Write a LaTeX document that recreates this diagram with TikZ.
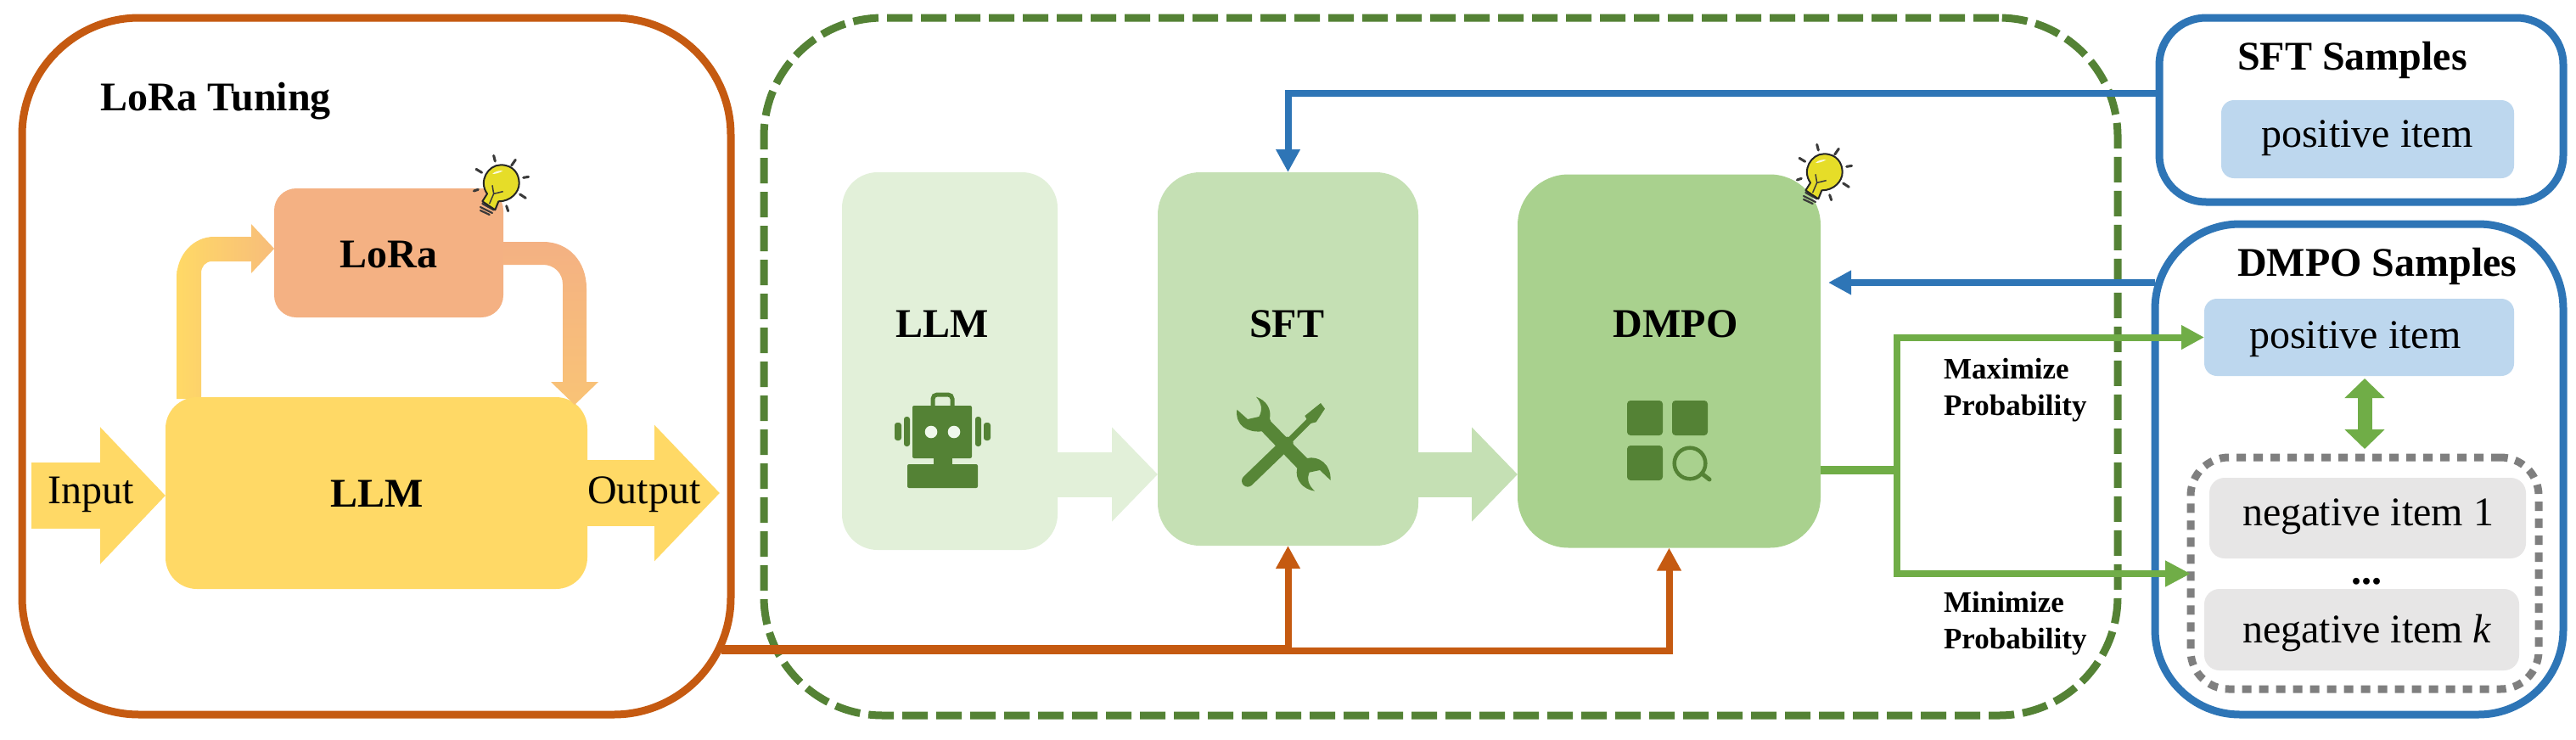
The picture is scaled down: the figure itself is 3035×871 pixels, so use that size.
\documentclass[tikz,border=0pt]{standalone}
\usepackage{fontspec}
\setmainfont{Liberation Serif}
\usetikzlibrary{arrows.meta,calc}
\definecolor{cOrange}{HTML}{C55A11}
\definecolor{cGreenD}{HTML}{548235}
\definecolor{cGreenM}{HTML}{70AD47}
\definecolor{cBlue}{HTML}{2E75B6}
\definecolor{cGrey}{HTML}{7F7F7F}
\definecolor{cYellow}{HTML}{FFD966}
\definecolor{cPeach}{HTML}{F4B183}
\definecolor{cG1}{HTML}{E2F0D9}
\definecolor{cG2}{HTML}{C5E0B4}
\definecolor{cG3}{HTML}{A9D18E}
\definecolor{cSky}{HTML}{BDD7EE}
\definecolor{cPale}{HTML}{E7E6E6}
\definecolor{cBulb}{HTML}{E6DD28}
\definecolor{cInk}{HTML}{3A3A3A}
\tikzset{
  boxbase/.style={rectangle,inner sep=0pt,outer sep=0pt,anchor=north west},
  frame/.style={boxbase,line width=9pt},
  solidbox/.style={boxbase,draw=none},
  txt/.style={inner sep=0pt,outer sep=0pt,anchor=base,font=\fontsize{48}{52}\selectfont},
  txtb/.style={txt,font=\fontsize{48}{52}\selectfont\bfseries},
  txts/.style={inner sep=0pt,outer sep=0pt,anchor=west,align=left,font=\fontsize{35}{43}\selectfont\bfseries},
  blockarrow/.style n args={4}{line width=#2,draw=#1,-{Triangle[length=#4,width=#3]}},
  thin arrow/.style={line width=8pt,-{Triangle[length=27pt,width=27pt]}},
  icon/.style={fill=cGreenD,draw=none},
  bulb/.pic={
    \begin{scope}[scale=0.3333,shift={(-270,-168)}]
      \draw[cInk,line width=3pt,line cap=round]
        (245,70)--(250,90) (322,85)--(308,105) (350,148)--(368,145)
        (338,207)--(358,220) (290,248)--(296,266) (175,195)--(190,190)
        (183,118)--(203,130);
      \draw[cInk,line width=2.2pt,line cap=round]
        (205,240)--(245,262) (198,252)--(240,273) (198,264)--(230,279);
      \draw[fill=cBulb,draw=black!85,line width=2pt,line join=round]
        (222,205) .. controls (190,160) and (225,103) .. (270,103)
        .. controls (315,103) and (335,135) .. (335,168)
        .. controls (335,200) and (305,232) .. (262,232)
        -- (250,262) -- (205,232) -- cycle;
      \draw[cInk,line width=1.5pt] (240,175)--(245,205)--(278,197) (245,205)--(230,240);
      \fill[white!85!cBulb] (240,135) .. controls (250,125) and (265,122) .. (278,124)
        .. controls (265,130) and (255,135) .. (240,135) -- cycle;
    \end{scope}
  }
}
\begin{document}
\begin{tikzpicture}[x=1pt,y=-1pt]
\useasboundingbox (0,0) rectangle (3035,871);
\fill[white] (0,0) rectangle (3035,871);

% frames
\node[frame,draw=cOrange,rounded corners=138pt,minimum width=835pt,minimum height=821pt] (tuning) at (26,21) {};
\node[frame,draw=cGreenD,dash pattern=on 30pt off 10pt,rounded corners=140pt,minimum width=1595pt,minimum height=822pt] (main) at (900,21) {};
\node[frame,draw=cBlue,rounded corners=55pt,minimum width=476pt,minimum height=217pt] (sftS) at (2544,21) {};
\node[frame,draw=cBlue,rounded corners=100pt,minimum width=481pt,minimum height=578pt] (dmpoS) at (2539,264) {};

% left panel
\node[txtb,anchor=base west] (tuningT) at (118,130) {LoRa Tuning};
\coordinate (inStart) at (37,584);
\coordinate (outEnd) at (848,581);
\node[solidbox,fill=cPeach,rounded corners=26pt,minimum width=270pt,minimum height=152pt] (lora) at (323,222) {};
\shade[left color=cYellow,right color=cPeach!70!cYellow]
  (lora.west) ++(0,-5) -- ++(-27,-29) -- ++(0,15) -- (252,279)
  .. controls (228,279) and (208,300) .. (208,328) -- (208,470) -- (237,470) -- (237,322)
  .. controls (237,314) and (242,308) .. (250,308) -- (296,308) -- (296,322) -- cycle;
\node[solidbox,fill=cYellow,rounded corners=37pt,minimum width=497pt,minimum height=226pt] (llmY) at (195,468) {};
\shade[top color=cPeach,bottom color=cPeach!55!cYellow]
  (lora.east) ++(0,-13) -- (640,285) .. controls (670,285) and (691,308) .. (691,340)
  -- (691,450) -- (705,450) -- (677,477) -- (649,450) -- (663,450) -- (663,335)
  .. controls (663,322) and (653,312) .. (640,312) -- (593,312) -- cycle;
\draw[blockarrow={cYellow}{78pt}{157pt}{77pt}] (inStart) -- (llmY.west |- inStart);
\draw[blockarrow={cYellow}{78pt}{156pt}{77pt}] (llmY.east |- outEnd) -- (outEnd);
\node[txt] (inputT) at (107,593) {Input};
\node[txt] (outputT) at (759,593) {Output};
\node[txtb] (llmYT) at (444,597) {LLM};
\node[txtb] (loraT) at (458,315) {LoRa};
\pic at (590,216) {bulb};

% middle boxes
\node[solidbox,fill=cG1,rounded corners=42pt,minimum width=254pt,minimum height=445pt] (llmG) at (992,203) {};
\node[solidbox,fill=cG2,rounded corners=50pt,minimum width=307pt,minimum height=440pt] (sft) at (1364,203) {};
\node[solidbox,fill=cG3,rounded corners=60pt,minimum width=357pt,minimum height=440pt] (dmpo) at (1788,205.5) {};
\coordinate (flowY) at (1300,559);
\draw[blockarrow={cG1}{53pt}{108pt}{54pt}] (llmG.east |- flowY) -- (sft.west |- flowY);
\draw[blockarrow={cG2}{53pt}{108pt}{54pt}] (sft.east |- flowY) -- (dmpo.west |- flowY);
\node[txtb] (llmGT) at (1110,397) {LLM};
\node[txtb] (sftT) at (1516,397) {SFT};
\node[txtb] (dmpoT) at (1974,397) {DMPO};
\pic at (2149,203) {bulb};

% robot icon
\draw[cGreenD,line width=5pt,rounded corners=5pt] (1099,480) -- (1099,465) -- (1122,465) -- (1122,480);
\fill[icon,rounded corners=2pt] (1075,478) rectangle (1145,540);
\fill[icon] (1100,538) rectangle (1122,549);
\fill[icon,rounded corners=2pt] (1069,547) rectangle (1152,575);
\fill[icon,rounded corners=3pt] (1065,491) rectangle (1072,526);
\fill[icon,rounded corners=3pt] (1054,498) rectangle (1062,519);
\fill[icon,rounded corners=3pt] (1149,491) rectangle (1156,526);
\fill[icon,rounded corners=3pt] (1159,498) rectangle (1167,519);
\fill[cG1!50!white] (1097,509) circle (7.3) (1124,509) circle (7.3);

% tools icon
\begin{scope}[shift={(1420,440)},scale=0.3333]
  \draw[cGreenD!90!cGreenM,line width=14pt,line cap=round] (150,380) -- (290,245);
  \draw[cGreenD!90!cGreenM,line width=7pt] (290,245) -- (370,165);
  \fill[cGreenD!90!cGreenM] (352,150) -- (408,105) -- (423,125) -- (392,172) -- (368,178) -- cycle;
  \fill[cGreenD!90!cGreenM] (180,83) .. controls (215,95) and (235,125) .. (228,160)
    -- (232,170) -- (360,300) .. controls (400,290) and (445,320) .. (443,378)
    -- (405,342) -- (368,350) .. controls (358,375) and (365,395) .. (387,416)
    .. controls (345,410) and (315,375) .. (325,335) -- (200,205)
    .. controls (150,210) and (105,185) .. (112,128) -- (150,162) -- (190,153)
    .. controls (203,130) and (200,105) .. (180,83) -- cycle;
\end{scope}

% search icon
\fill[icon,rounded corners=4pt] (1917,472) rectangle (1959,513);
\fill[icon,rounded corners=4pt] (1970,472) rectangle (2012,513);
\fill[icon,rounded corners=4pt] (1917,525) rectangle (1959,566);
\draw[cGreenD,line width=4.5pt] (1991,546) circle (18.3);
\draw[cGreenD,line width=5pt,line cap=round] (2005,558) -- (2014,565);

% right boxes
\node[solidbox,fill=cSky,rounded corners=15pt,minimum width=345pt,minimum height=92pt] (pos1) at (2617,118) {};
\node[solidbox,fill=cSky,rounded corners=15pt,minimum width=365pt,minimum height=91pt] (pos2) at (2597,352) {};
\node[boxbase,draw=cGrey,line width=9pt,dash pattern=on 11pt off 9pt,rounded corners=45pt,minimum width=410pt,minimum height=273pt] (negG) at (2581,539) {};
\node[solidbox,fill=cPale,rounded corners=18pt,minimum width=373pt,minimum height=95pt] (neg1) at (2603,563) {};
\node[solidbox,fill=cPale,rounded corners=18pt,minimum width=371pt,minimum height=96pt] (negk) at (2597,694) {};
\node[txtb,anchor=base west] (sftST) at (2636,82) {SFT Samples};
\node[txtb,anchor=base west] (dmpoST) at (2636,325) {DMPO Samples};
\node[txt,anchor=base west] (pos1T) at (2664,173) {positive item};
\node[txt,anchor=base west] (pos2T) at (2650,410) {positive item};
\node[txt,anchor=base west] (neg1T) at (2642,619) {negative item 1};
\node[txt,anchor=base west] (negkT) at (2642,757) {negative item \textit{k}};
\node[txtb] (dotsT) at (2788,688) {...};

% connectors
\coordinate (blueTop) at (2000,109.5);
\draw[thin arrow,draw=cBlue] (sftS.west |- blueTop) -| (sft.north);
\coordinate (blueMid) at (2300,333);
\draw[thin arrow,draw=cBlue,shorten >=9pt] (dmpoS.west |- blueMid) -- (dmpo.east |- blueMid);
\coordinate (oJ) at (850,765);
\coordinate (oK) at (1517.5,765);
\draw[cOrange,line width=11pt] (oJ) -- (oK);
\draw[thin arrow,draw=cOrange] (oK) -- (sft.south);
\draw[thin arrow,draw=cOrange] (oK |- 0,767) -| (dmpo.south);
\coordinate (gS) at (2145,554);
\coordinate (gJ) at (2235,554);
\coordinate (gLow) at (2400,676);
\draw[cGreenM,line width=9.5pt] (gS) -- (gJ);
\draw[thin arrow,draw=cGreenM] (gJ) |- (pos2.west);
\draw[draw=cGreenM,line width=8pt,-{Triangle[length=30pt,width=29pt]}] (gJ) |- (negG.west |- gLow);
\draw[cGreenM,line width=17pt,{Triangle[length=23pt,width=46pt]}-{Triangle[length=23pt,width=46pt]}] (2786,446) -- (2786,529);
\node[txts] (maxT) at (2290,460) {Maximize\\Probability};
\node[txts] (minT) at (2290,735) {Minimize\\Probability};
\end{tikzpicture}
\end{document}
